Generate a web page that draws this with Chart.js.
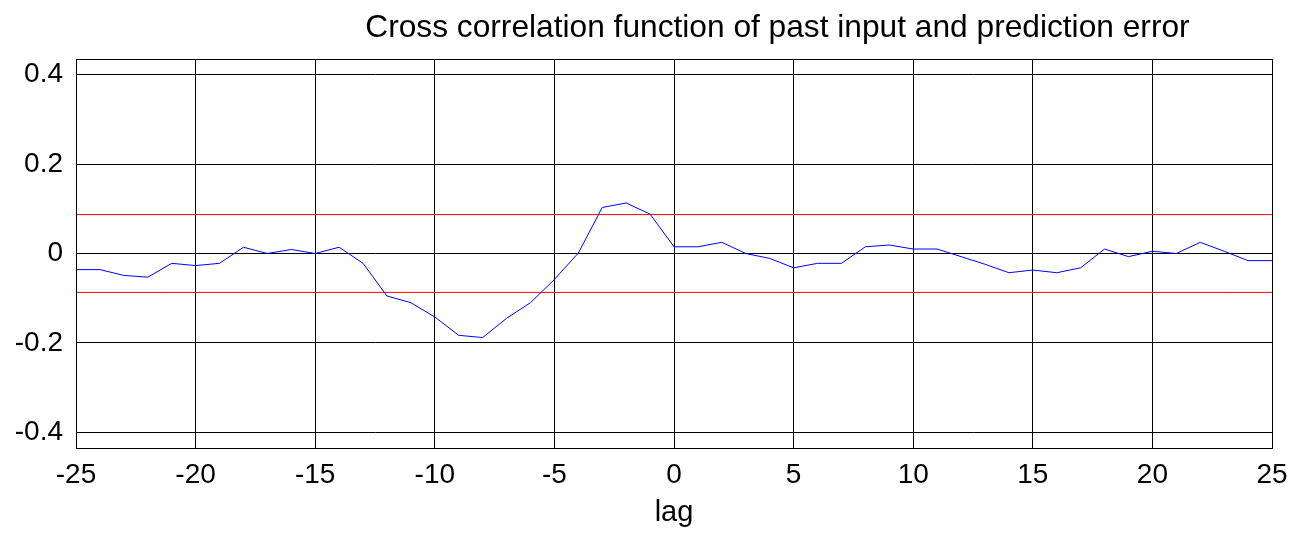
<!DOCTYPE html>
<html>
<head>
<meta charset="utf-8">
<title>Cross correlation</title>
<script src="https://cdn.jsdelivr.net/npm/chart.js@4/dist/chart.umd.min.js"></script>
<style>
  body { margin: 0; background: #fff; }
  canvas { display: block; }
</style>
</head>
<body>
<canvas id="grafico" width="1302" height="536"></canvas>
<script>
const tituloTexto = "Cross correlation function of past input and prediction error";
const eixoX = "lag";

// lags -25..25
const lags = [
    -25, -24, -23, -22, -21, -20, -19, -18, -17, -16, -15, -14, -13,
    -12, -11, -10, -9, -8, -7, -6, -5, -4, -3, -2, -1,
    0, 1, 2, 3, 4, 5, 6, 7, 8, 9, 10, 11, 12,
    13, 14, 15, 16, 17, 18, 19, 20, 21, 22, 23, 24, 25
];
const correlacao = [
    -0.036, -0.036, -0.049, -0.053, -0.022, -0.027, -0.022, 0.014, 0.000, 0.009, 0.000, 0.014, -0.022,
    -0.095, -0.110, -0.142, -0.183, -0.188, -0.145, -0.110, -0.058, 0.001, 0.103, 0.113, 0.088,
    0.015, 0.015, 0.025, 0.000, -0.011, -0.032, -0.022, -0.022, 0.015, 0.019, 0.010, 0.010, -0.007,
    -0.024, -0.043, -0.037, -0.043, -0.032, 0.010, -0.007, 0.005, 0.000, 0.025, 0.005, -0.016, -0.016
];
const limiteSuperior = [0.087, 0.087];
const limiteInferior = [-0.087, -0.087];
const limiteLags = [-25, 25];

const ticksX = [-25, -20, -15, -10, -5, 0, 5, 10, 15, 20, 25];
const ticksY = [-0.4, -0.2, 0, 0.2, 0.4];

const fonte = "'Liberation Sans', Arial, sans-serif";

// moldura completa + titulo deslocado como no original
const moldura = {
    id: "moldura",
    afterDraw(chart) {
        const { ctx, chartArea } = chart;
        ctx.save();
        ctx.strokeStyle = "#000";
        ctx.lineWidth = 1;
        ctx.strokeRect(Math.round(chartArea.left) + 0.5, Math.round(chartArea.top) + 0.5,
            Math.round(chartArea.width), Math.round(chartArea.height));
        ctx.fillStyle = "#000";
        ctx.font = "31.7px " + fonte;
        ctx.textAlign = "center";
        ctx.textBaseline = "alphabetic";
        ctx.fillText(tituloTexto, chartArea.left + chartArea.width * 0.5865, chartArea.top - 22);
        ctx.restore();
    }
};

function pares(xs, ys) {
    return xs.map((x, i) => ({ x, y: ys[i] }));
}

function desenharGrafico() {
    const ctx = document.getElementById("grafico").getContext("2d");
    new Chart(ctx, {
        type: "line",
        data: {
            datasets: [
                {
                    data: pares(lags, correlacao),
                    borderColor: "#0000ff",
                    borderWidth: 1,
                    pointRadius: 0,
                    tension: 0
                },
                {
                    data: pares(limiteLags, limiteSuperior),
                    borderColor: "#ff0000",
                    borderWidth: 1,
                    pointRadius: 0
                },
                {
                    data: pares(limiteLags, limiteInferior),
                    borderColor: "#ff0000",
                    borderWidth: 1,
                    pointRadius: 0
                }
            ]
        },
        options: {
            responsive: false,
            animation: false,
            layout: { padding: { top: 59, right: 30, left: 0, bottom: 0 } },
            plugins: {
                legend: { display: false },
                title: { display: false },
                tooltip: { enabled: false }
            },
            scales: {
                x: {
                    type: "linear",
                    min: -25,
                    max: 25,
                    afterBuildTicks: s => { s.ticks = ticksX.map(v => ({ value: v })); },
                    afterFit: s => { s.height = 88; },
                    grid: { color: "#000", lineWidth: 1, drawTicks: false },
                    border: { color: "#000", width: 1 },
                    ticks: {
                        color: "#000",
                        padding: 10,
                        maxRotation: 0,
                        autoSkip: false,
                        font: { family: fonte, size: 28 },
                        callback: v => String(v)
                    },
                    title: {
                        display: true,
                        text: eixoX,
                        color: "#000",
                        font: { family: fonte, size: 29 },
                        padding: { top: 0, bottom: 6 }
                    }
                },
                y: {
                    min: -0.435,
                    max: 0.435,
                    afterBuildTicks: s => { s.ticks = ticksY.map(v => ({ value: v })); },
                    afterFit: s => { s.width = 76; },
                    grid: { color: "#000", lineWidth: 1, drawTicks: false },
                    border: { color: "#000", width: 1 },
                    ticks: {
                        color: "#000",
                        padding: 13,
                        autoSkip: false,
                        font: { family: fonte, size: 28 },
                        callback: v => String(Math.round(v * 10) / 10)
                    }
                }
            }
        },
        plugins: [moldura]
    });
}

window.onload = () => {
    desenharGrafico();
};
</script>
</body>
</html>
